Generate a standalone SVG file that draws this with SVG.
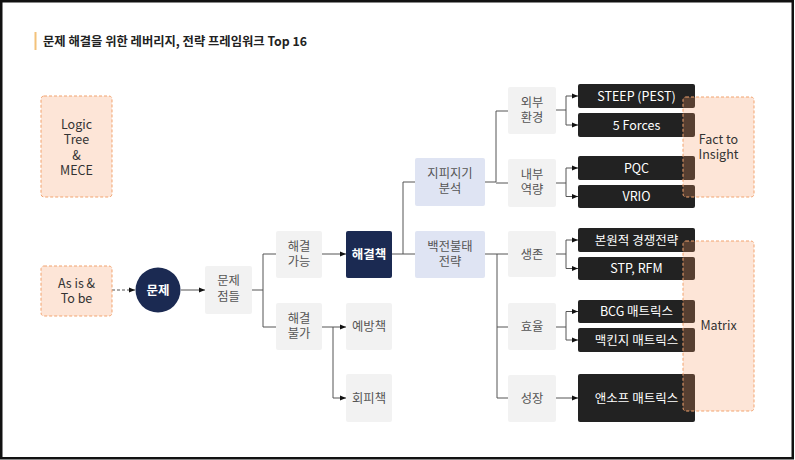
<svg xmlns="http://www.w3.org/2000/svg" width="795" height="460" viewBox="0 0 795 460">
<defs>
<marker id="ah" markerUnits="userSpaceOnUse" markerWidth="6" markerHeight="6" refX="6" refY="3" orient="auto"><path d="M0,0.5 L6,3 L0,5.5 Z" fill="#111"/></marker>
<style>
text{font-family:"Noto Sans CJK KR","Noto Sans",sans-serif;text-anchor:middle}
.gray{fill:#f2f2f2}
.lav{fill:#dfe4f3}
.navy{fill:#1b2a52}
.dark{fill:#222222}
.ov{fill:#f7975f;fill-opacity:0.25;stroke:#f2a36f;stroke-width:1;stroke-dasharray:3,2}
.t{font-size:12.3px;fill:#555}
.td{font-size:12.5px;fill:#333}
.tw{font-size:12.5px;fill:#fff;font-weight:400}
.tb{font-size:12.5px;fill:#fff;font-weight:700}
.c{fill:none;stroke:#555;stroke-width:1}
</style>
</defs>
<rect x="1.25" y="1.25" width="791.5" height="457" fill="#fff" stroke="#111" stroke-width="2.5"/>
<g id="title">
<rect x="34.5" y="32" width="2" height="18" fill="#f3c27a"/>
<text x="43" y="46" style="text-anchor:start;font-size:12.3px;font-weight:700;fill:#222">문제 해결을 위한 레버리지, 전략 프레임워크 Top 16</text>
</g>
<g id="connectors">
<path class="c" d="M112,290 H135" stroke-dasharray="3,2" marker-end="url(#ah)"/>
<path class="c" d="M181,290 H205" marker-end="url(#ah)"/>
<path class="c" d="M252,290 H263 M263,254 V327 M263,254 H276 M263,327 H276"/>
<path class="c" d="M322,254 H346" marker-end="url(#ah)"/>
<path class="c" d="M322,327 H346" marker-end="url(#ah)"/>
<path class="c" d="M333,327 V398 H346" marker-end="url(#ah)"/>
<path class="c" d="M392,254 H403 M403,182 V254 M403,182 H415 M403,254 H415"/>
<path class="c" d="M485,182 H496 M496,111 V182 M496,111 H508 M496,183 H508"/>
<path class="c" d="M485,254 H497 M497,254 V398 M497,254 H508 M497,327 H508 M497,398 H508"/>
<path class="c" d="M556,110 H566 M566,96 V125"/>
<path class="c" d="M566,96 H578" marker-end="url(#ah)"/>
<path class="c" d="M566,125 H578" marker-end="url(#ah)"/>
<path class="c" d="M556,183 H566 M566,168 V196.5"/>
<path class="c" d="M566,168 H578" marker-end="url(#ah)"/>
<path class="c" d="M566,196.5 H578" marker-end="url(#ah)"/>
<path class="c" d="M556,254 H566 M566,240 V268.5"/>
<path class="c" d="M566,240 H578" marker-end="url(#ah)"/>
<path class="c" d="M566,268.5 H578" marker-end="url(#ah)"/>
<path class="c" d="M556,327 H566 M566,311.5 V340"/>
<path class="c" d="M566,311.5 H578" marker-end="url(#ah)"/>
<path class="c" d="M566,340 H578" marker-end="url(#ah)"/>
<path class="c" d="M556,398 H578" marker-end="url(#ah)"/>
</g>
<g id="logic-tree"><rect class="ov" x="41" y="96" width="71" height="101" rx="3"/>
<text class="td" x="76.5" y="128.5">Logic<tspan x="76.5" dy="15.5">Tree</tspan><tspan x="76.5" dy="15.5">&amp;</tspan><tspan x="76.5" dy="15.5">MECE</tspan></text></g>
<g id="as-is"><rect class="ov" x="41" y="266" width="71" height="50" rx="3"/>
<text class="td" x="76.5" y="287.5">As is &amp;<tspan x="76.5" dy="15">To be</tspan></text></g>
<g id="problem"><circle class="navy" cx="158" cy="290" r="22.5"/><text class="tb" x="158" y="294.5">문제</text></g>
<g id="issues"><rect class="gray" x="205" y="266" width="47" height="48" rx="2"/><text class="t" x="228.5" y="285">문제<tspan x="228.5" dy="16">점들</tspan></text></g>
<g id="solvable"><rect class="gray" x="276" y="231" width="46" height="47" rx="2"/><text class="t" x="299" y="250.5">해결<tspan x="299" dy="15.5">가능</tspan></text></g>
<g id="unsolvable"><rect class="gray" x="276" y="303" width="46" height="47" rx="2"/><text class="t" x="299" y="322.5">해결<tspan x="299" dy="15.5">불가</tspan></text></g>
<g id="solution"><rect class="navy" x="346" y="231" width="46" height="47" rx="2"/><text class="tb" x="369" y="259">해결책</text></g>
<g id="prevent"><rect class="gray" x="346" y="303" width="46" height="47" rx="2"/><text class="t" x="369" y="331">예방책</text></g>
<g id="avoid"><rect class="gray" x="346" y="374" width="46" height="48" rx="2"/><text class="t" x="369" y="402.5">회피책</text></g>
<g id="know"><rect class="lav" x="415" y="158" width="70" height="48" rx="2"/><text class="t" x="450" y="177.5">지피지기<tspan x="450" dy="15.5">분석</tspan></text></g>
<g id="strategy"><rect class="lav" x="415" y="231" width="70" height="47" rx="2"/><text class="t" x="450" y="250.5">백전불태<tspan x="450" dy="15.5">전략</tspan></text></g>
<g id="external"><rect class="gray" x="508" y="87" width="48" height="47" rx="2"/><text class="t" x="532" y="106.5">외부<tspan x="532" dy="15.5">환경</tspan></text></g>
<g id="internal"><rect class="gray" x="508" y="159" width="48" height="48" rx="2"/><text class="t" x="532" y="178.5">내부<tspan x="532" dy="15.5">역량</tspan></text></g>
<g id="survive"><rect class="gray" x="508" y="231" width="48" height="46" rx="2"/><text class="t" x="532" y="258.5">생존</text></g>
<g id="efficiency"><rect class="gray" x="508" y="303" width="48" height="47" rx="2"/><text class="t" x="532" y="331">효율</text></g>
<g id="growth"><rect class="gray" x="508" y="375" width="48" height="47" rx="2"/><text class="t" x="532" y="402.5">성장</text></g>
<g id="steep"><rect class="dark" x="578" y="84" width="117" height="24" rx="2"/><text class="tw" x="636.5" y="100.5">STEEP (PEST)</text></g>
<g id="forces"><rect class="dark" x="578" y="113" width="117" height="24" rx="2"/><text class="tw" x="636.5" y="129.5">5 Forces</text></g>
<g id="pqc"><rect class="dark" x="578" y="156" width="117" height="24" rx="2"/><text class="tw" x="636.5" y="172.5">PQC</text></g>
<g id="vrio"><rect class="dark" x="578" y="185" width="117" height="23" rx="2"/><text class="tw" x="636.5" y="201">VRIO</text></g>
<g id="generic"><rect class="dark" x="578" y="228" width="117" height="24" rx="2"/><text class="tw" x="636.5" y="244.5">본원적 경쟁전략</text></g>
<g id="stp"><rect class="dark" x="578" y="257" width="117" height="23" rx="2"/><text class="tw" x="636.5" y="273">STP, RFM</text></g>
<g id="bcg"><rect class="dark" x="578" y="300" width="117" height="23" rx="2"/><text class="tw" x="636.5" y="316">BCG 매트릭스</text></g>
<g id="mckinsey"><rect class="dark" x="578" y="328" width="117" height="24" rx="2"/><text class="tw" x="636.5" y="344.5">맥킨지 매트릭스</text></g>
<g id="ansoff"><rect class="dark" x="578" y="374" width="117" height="48" rx="2"/><text class="tw" x="636.5" y="402.5">앤소프 매트릭스</text></g>
<g id="fact-insight"><rect class="ov" x="683" y="97" width="71" height="100" rx="3"/><text class="td" x="718.5" y="144">Fact to<tspan x="718.5" dy="15">Insight</tspan></text></g>
<g id="matrix"><rect class="ov" x="683" y="241" width="71" height="170" rx="3"/><text class="td" x="718.5" y="330">Matrix</text></g>
</svg>
